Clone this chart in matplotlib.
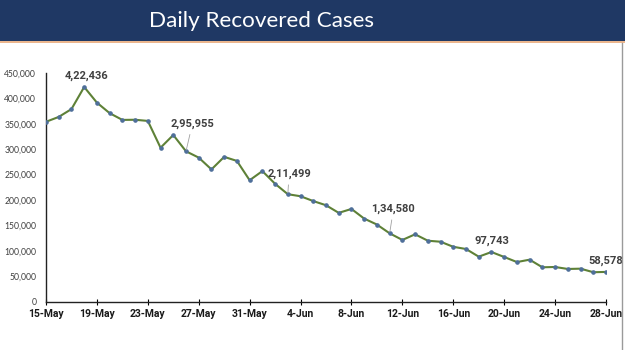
import matplotlib
matplotlib.use("Agg")
import matplotlib.pyplot as plt
from matplotlib.patches import Rectangle
from matplotlib.lines import Line2D

# Daily recovered cases, 15-May to 28-Jun
days = list(range(45))
recovered = [354000, 363600, 379000, 422436, 391700, 371000, 357700, 358000, 355700,
             303000, 328000, 295955, 283500, 260300, 285000, 277000, 239000, 257000,
             232000, 211499, 207500, 198000, 189800, 174800, 182500, 163500, 151800,
             134580, 121500, 132600, 120000, 118000, 108000, 103700, 88600, 97743,
             88000, 78000, 82700, 67700, 68300, 64400, 65000, 58000, 58578]
tick_days = [0, 4, 8, 12, 16, 20, 24, 28, 32, 36, 40, 44]
tick_labels = ["15-May", "19-May", "23-May", "27-May", "31-May", "4-Jun",
               "8-Jun", "12-Jun", "16-Jun", "20-Jun", "24-Jun", "28-Jun"]
y_ticks = [0, 50000, 100000, 150000, 200000, 250000, 300000, 350000, 400000, 450000]

# callouts: (day index, label text, label x, label y, leader line?)
callouts = [(3, "4,22,436", 3.15, 444000, False),
            (11, "2,95,955", 11.5, 350000, True),
            (19, "2,11,499", 19.1, 251000, True),
            (27, "1,34,580", 27.3, 182000, True),
            (35, "97,743", 35.0, 119000, False),
            (44, "58,578", 44.0, 80000, False)]

fig = plt.figure(figsize=(6.25, 3.5), dpi=100)
fig.patch.set_facecolor("white")

# title banner
fig.add_artist(Rectangle((0, 1 - 41 / 350), 1, 41 / 350, transform=fig.transFigure,
                         facecolor="#1f3864", edgecolor="none", zorder=0))
fig.add_artist(Line2D([0, 1], [1 - 42 / 350, 1 - 42 / 350], transform=fig.transFigure,
                      color="#e8a878", lw=1.2))
fig.add_artist(Line2D([622 / 625, 622 / 625], [0, 1 - 43 / 350], transform=fig.transFigure,
                      color="#9a9a9a", lw=1.0))
fig.text(0.418, 1 - 21 / 350, "Daily Recovered Cases", color="white", fontsize=16.2,
         family="Lato", ha="center", va="center")

ax = fig.add_axes([46 / 625, 48.3 / 350, 560 / 625, 228.7 / 350])
ax.plot(days, recovered, color="#5e8137", lw=1.5, marker="o", markersize=2.3,
        markerfacecolor="#4f6f9a", markeredgecolor="#4f6f9a", zorder=3)

ax.set_xlim(0, 44)
ax.set_ylim(0, 450000)
ax.set_yticks(y_ticks)
ax.set_yticklabels([f"{v:,}" for v in y_ticks], fontsize=6.2, color="#404040", family="Lato")
ax.set_xticks(tick_days)
ax.set_xticklabels(tick_labels, fontsize=7.5, fontweight="bold", color="#1a1a1a", family="Roboto")
ax.tick_params(axis="y", length=0, pad=7)
ax.tick_params(axis="x", direction="inout", length=5, width=0.8, pad=3)
for side in ("top", "right"):
    ax.spines[side].set_visible(False)
for side in ("left", "bottom"):
    ax.spines[side].set_color("#222222")
    ax.spines[side].set_linewidth(1.0)

for idx, text, tx, ty, leader in callouts:
    if leader:
        ax.annotate(text, xy=(days[idx], recovered[idx]), xytext=(tx, ty),
                    ha="center", va="center", fontsize=8, fontweight="bold",
                    color="#404040", family="Roboto",
                    arrowprops=dict(arrowstyle="-", color="#a0a0a0", lw=0.6,
                                    shrinkA=2, shrinkB=1))
    else:
        ax.text(tx, ty, text, ha="center", va="center", fontsize=8,
                fontweight="bold", color="#404040", family="Roboto", clip_on=False)

fig.savefig("out.png", dpi=100)
